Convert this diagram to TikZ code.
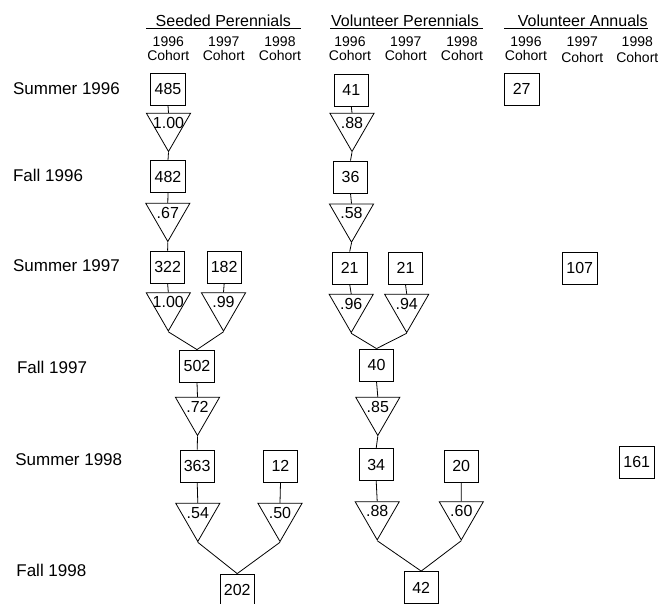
\documentclass[tikz,border=0pt]{standalone}
\usepackage{fontspec}
\setmainfont{Liberation Sans}
\usetikzlibrary{shapes.geometric}

\begin{document}
\begin{tikzpicture}[x=1pt, y=-1pt, line width=0.8pt,
    count/.style={draw, rectangle, minimum width=34.5pt, minimum height=32pt, inner sep=0pt, font=\fontsize{16}{19}\selectfont},
    surv/.style={draw, regular polygon, regular polygon sides=3, shape border rotate=180, minimum size=51pt, inner sep=0pt,
                 label={[font=\fontsize{16}{19}\selectfont, yshift=3.3pt]center:#1}},
    season/.style={anchor=base west, inner sep=0pt, font=\fontsize{17}{20}\selectfont},
    group/.style={anchor=base, font=\fontsize{16}{19}\selectfont},
    cohort/.style={anchor=base, font=\fontsize{14}{17}\selectfont}]

        \useasboundingbox (0,0) rectangle (662,604);

        % column headers
        \node[group] (g1) at (223.3, 26.7) {Seeded Perennials};
        \node[group] (g2) at (405, 26.7) {Volunteer Perennials};
        \node[group] (g3) at (582.8, 26.7) {Volunteer Annuals};
        \draw (146, 28.5) -- (301, 28.5);
        \draw (330, 28.5) -- (483.3, 28.5);
        \draw (504.3, 28.5) -- (648.3, 28.5);

        \foreach \x/\yr/\cb [count=\i] in {168.3/1996/60.7, 223.8/1997/60.7, 280/1998/60.7,
                                         350/1996/60.7, 405.8/1997/60.7, 462/1998/60.7,
                                         526/1996/60.7, 582.3/1997/63, 637.3/1998/63}
        {
            \node[cohort] (yr\i) at (\x, 46.7) {\yr};
            \node[cohort] (co\i) at (\x, \cb) {Cohort};
        }

        % seasons
        \node[season] (r1) at (12.7, 94.3) {Summer 1996};
        \node[season] (r2) at (12.7, 181.7) {Fall 1996};
        \node[season] (r3) at (12.7, 271.7) {Summer 1997};
        \node[season] (r4) at (16.7, 373.3) {Fall 1997};
        \node[season] (r5) at (15, 465) {Summer 1998};
        \node[season] (r6) at (16, 576) {Fall 1998};

        % Seeded perennials
        \node[count] (s485) at (168, 89) {485};
        \node[surv=1.00] (sa) at (168.5, 126) {};
        \node[count] (s482) at (168, 176.7) {482};
        \node[surv=.67] (sb) at (167.8, 216) {};
        \node[count] (s322) at (167.6, 267) {322};
        \node[count] (s182) at (224.2, 267) {182};
        \node[surv=1.00] (sc) at (168.3, 305.5) {};
        \node[surv=.99] (sd) at (223.5, 305.5) {};
        \node[count] (s502) at (197, 366) {502};
        \node[surv=.72] (se) at (197.5, 410) {};
        \node[count] (s363) at (197.2, 466) {363};
        \node[count] (s12) at (280.5, 466) {12};
        \node[surv=.54] (sf) at (197.8, 516) {};
        \node[surv=.50] (sg) at (280, 516) {};
        \node[count] (s202) at (237.2, 590) {202};

        \draw (s485.south) -- (sa.side 2);
        \draw (sa.corner 1) -- (s482.north);
        \draw (s482.south) -- (sb.side 2);
        \draw (sb.corner 1) -- (s322.north);
        \draw (s322.south) -- (sc.side 2);
        \draw (s182.south) -- (sd.side 2);
        \draw (sc.corner 1) -- (s502.north);
        \draw (sd.corner 1) -- (s502.north);
        \draw (s502.south) -- (se.side 2);
        \draw (se.corner 1) -- (s363.north);
        \draw (s363.south) -- (sf.side 2);
        \draw (s12.south) -- (sg.side 2);
        \draw (sf.corner 1) -- (s202.north);
        \draw (sg.corner 1) -- (s202.north);

        % Volunteer perennials
        \node[count] (v41) at (351.3, 90) {41};
        \node[surv=.88] (va) at (352, 126) {};
        \node[count] (v36) at (350.5, 177) {36};
        \node[surv=.58] (vb) at (351.5, 216.7) {};
        \node[count] (v21a) at (349.7, 268) {21};
        \node[count] (v21b) at (405.5, 268) {21};
        \node[surv=.96] (vc) at (351.2, 307) {};
        \node[surv=.94] (vd) at (406.7, 307) {};
        \node[count] (v40) at (376.5, 365) {40};
        \node[surv=.85] (ve) at (377.8, 410) {};
        \node[count] (v34) at (376.2, 464.5) {34};
        \node[count] (v20) at (461.2, 466) {20};
        \node[surv=.88] (vf) at (377.2, 514.4) {};
        \node[surv=.60] (vg) at (461.3, 514.4) {};
        \node[count] (v42) at (421.2, 587.5) {42};

        \draw (v41.south) -- (va.side 2);
        \draw (va.corner 1) -- (v36.north);
        \draw (v36.south) -- (vb.side 2);
        \draw (vb.corner 1) -- (v21a.north);
        \draw (v21a.south) -- (vc.side 2);
        \draw (v21b.south) -- (vd.side 2);
        \draw (vc.corner 1) -- (v40.north);
        \draw (vd.corner 1) -- (v40.north);
        \draw (v40.south) -- (ve.side 2);
        \draw (ve.corner 1) -- (v34.north);
        \draw (v34.south) -- (vf.side 2);
        \draw (v20.south) -- (vg.side 2);
        \draw (vf.corner 1) -- (v42.north);
        \draw (vg.corner 1) -- (v42.north);

        % Volunteer annuals
        \node[count] (a27) at (521.7, 89.2) {27};
        \node[count] (a107) at (579.8, 268) {107};
        \node[count] (a161) at (636.7, 462) {161};

\end{tikzpicture}
\end{document}
